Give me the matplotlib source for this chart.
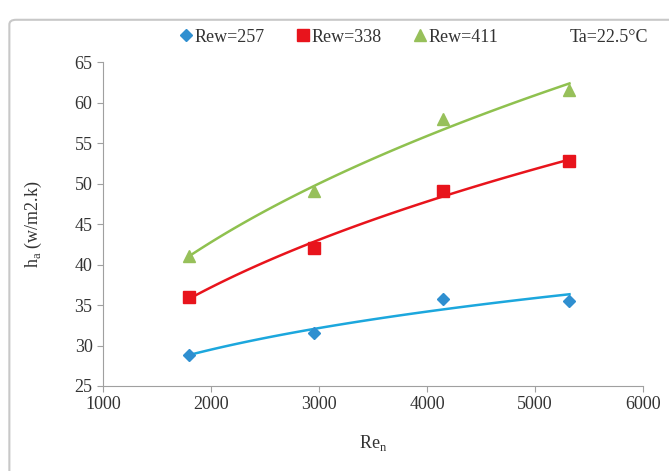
import numpy as np
import matplotlib.pyplot as plt
from matplotlib.patches import FancyBboxPatch

plt.rcParams['font.family'] = ['Liberation Serif', 'DejaVu Serif']

#data
re_n = [1800, 2950, 4150, 5320]
h_257 = [28.8, 31.6, 35.8, 35.5]
h_338 = [36.0, 42.1, 49.1, 52.8]
h_411 = [41.1, 49.1, 58.0, 61.6]
labels = ['Rew=257', 'Rew=338', 'Rew=411']

series = [h_257, h_338, h_411]
markers = ['D', 's', '^']
mcolors = ['#2f8fd0', '#e8141c', '#97c05a']
lcolors = ['#1ca7dd', '#e8141c', '#8fc14f']
msizes = [6, 8, 8]

fig = plt.figure(figsize=(6.69, 4.71), dpi=100)
ax = fig.add_axes([0.154, 0.1805, 0.807, 0.6875])

#outer chart border
fig.patches.append(FancyBboxPatch((0.014, -0.02), 1.0, 0.978, boxstyle='round,pad=0,rounding_size=0.01',
                                  transform=fig.transFigure, fill=False, edgecolor='#c8c8c8', lw=1.5))

#power trendlines (fitted in log space) + markers
xs = np.linspace(min(re_n), max(re_n), 100)
for y, m, mc, lc, ms, lab in zip(series, markers, mcolors, lcolors, msizes, labels):
    b, lna = np.polyfit(np.log(re_n), np.log(y), 1)
    ax.plot(xs, np.exp(lna) * xs ** b, color=lc, lw=1.8, zorder=2)
    ax.plot(re_n, y, linestyle='none', marker=m, color=mc, markersize=ms, label=lab, zorder=3)

ax.set_xlim(1000, 6000)
ax.set_ylim(25, 65)
ax.set_xticks(np.arange(1000, 6001, 1000))
ax.set_yticks(np.arange(25, 66, 5))
ax.tick_params(labelsize=13, colors='#333333', length=4, color='#a0a0a0')
for s in ['top', 'right']:
    ax.spines[s].set_visible(False)
for s in ['left', 'bottom']:
    ax.spines[s].set_color('#a0a0a0')

ax.set_xlabel('Re$_\\mathregular{n}$', fontsize=13, color='#333333', labelpad=14)
ax.set_ylabel('h$_\\mathregular{a}$ (w/m2.k)', fontsize=13, color='#333333', labelpad=22)

fig.legend(loc='center', bbox_to_anchor=(0.505, 0.921), ncol=3, frameon=False, fontsize=13,
           handletextpad=0.0, columnspacing=1.6, handlelength=1.0, labelcolor='#333333')
fig.text(0.91, 0.921, 'Ta=22.5°C', fontsize=13, color='#333333', ha='center', va='center')

fig.savefig('out.png', dpi=100)
